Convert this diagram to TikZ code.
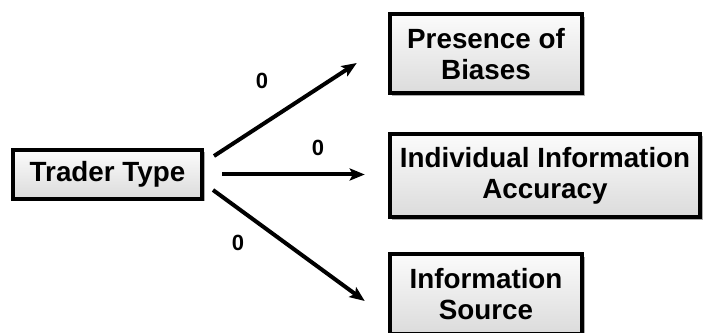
\documentclass[tikz,border=0pt]{standalone}
\usepackage{fontspec}
\setmainfont{Liberation Sans}
\usepackage{tikz}
\usetikzlibrary{arrows.meta, positioning, shadows, calc}

\begin{document}
\begin{tikzpicture}[x=1pt, y=1pt,
    factor/.style={draw, line width=4pt, align=center, inner sep=0pt,
        top color=gray!3, bottom color=gray!28,
        drop shadow={shadow xshift=2.5pt, shadow yshift=-2.5pt, fill=gray!65, opacity=1},
        font=\fontsize{27.8}{31}\selectfont\bfseries},
    weight/.style={font=\fontsize{22}{24}\selectfont\bfseries},
    flow/.style={line width=4pt, -{Stealth[length=15pt, width=12pt, inset=3pt]}}]
    \useasboundingbox (0,0) rectangle (703,332);

    \node[factor, minimum width=189pt, minimum height=49pt] (trader) at (107.5,157.5) {Trader Type};
    \node[factor, minimum width=192.5pt, minimum height=79pt] (bias) at (486,278) {Presence of\\Biases};
    \node[factor, minimum width=310.5pt, minimum height=83pt] (acc) at (545,156.5) {Individual Information\\Accuracy};
    \node[factor, minimum width=192.5pt, minimum height=80pt] (src) at (486,38) {Information\\Source};

    \draw[flow] ([shift={(10pt,-8pt)}]trader.north east) -- ([shift={(-31pt,-9pt)}]bias.west);
    \draw[flow] ([xshift=18pt]trader.east) -- ([xshift=-23pt]trader.east -| acc.west);
    \draw[flow] ([shift={(9pt,11pt)}]trader.south east) -- ([shift={(-23pt,-7pt)}]src.west);

    % path weights
    \node[weight] (w1) at (262,251) {0};
    \node[weight] (w2) at (318,184) {0};
    \node[weight] (w3) at (238,89) {0};
\end{tikzpicture}
\end{document}
